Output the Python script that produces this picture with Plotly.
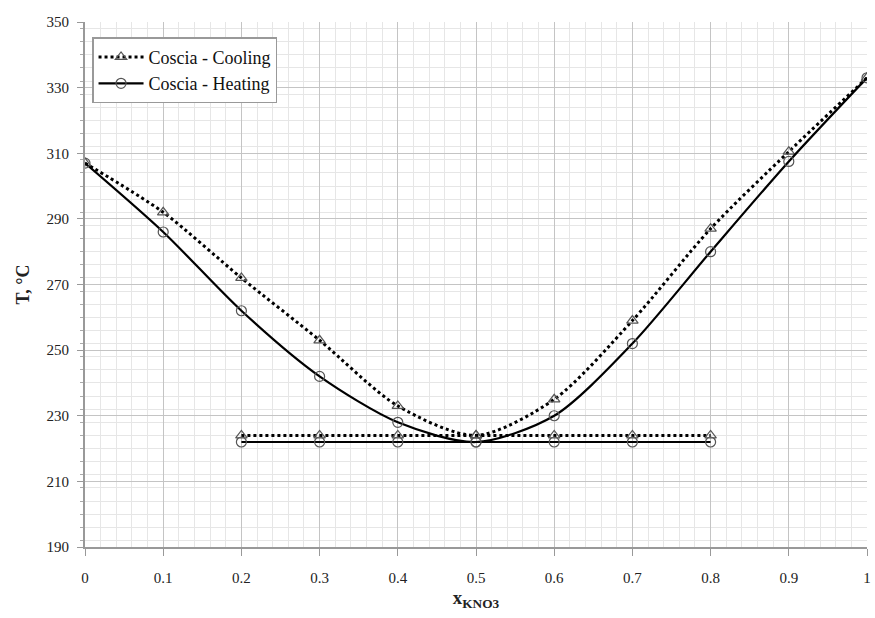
import plotly.graph_objects as go

# Data
x_curve = [0.0, 0.1, 0.2, 0.3, 0.4, 0.5, 0.6, 0.7, 0.8, 0.9, 1.0]
cooling_curve = [307, 292, 272, 253, 233, 224, 235, 259, 287, 310.5, 333]
heating_curve = [307, 286, 262, 242, 228, 222, 230, 252, 280, 307.5, 333]

x_eutectic = [0.2, 0.3, 0.4, 0.5, 0.6, 0.7, 0.8]
cooling_eutectic = [224, 224, 224, 224, 224, 224, 224]
heating_eutectic = [222, 222, 222, 222, 222, 222, 222]

FONT = "Liberation Serif"
MARKER_COLOR = "#555555"

fig = go.Figure()

fig.add_trace(go.Scatter(
    x=x_curve, y=cooling_curve, mode="lines+markers", name="Coscia - Cooling",
    line=dict(color="black", width=3, dash="dot", shape="spline", smoothing=0.8),
    marker=dict(symbol="triangle-up-open", size=10, color=MARKER_COLOR, line=dict(width=1.2, color=MARKER_COLOR)),
))
fig.add_trace(go.Scatter(
    x=x_curve, y=heating_curve, mode="lines+markers", name="Coscia - Heating",
    line=dict(color="black", width=2.2, shape="spline", smoothing=0.8),
    marker=dict(symbol="circle-open", size=10, color=MARKER_COLOR, line=dict(width=1.2, color=MARKER_COLOR)),
))
fig.add_trace(go.Scatter(
    x=x_eutectic, y=cooling_eutectic, mode="lines+markers", showlegend=False,
    line=dict(color="black", width=3, dash="dot"),
    marker=dict(symbol="triangle-up-open", size=10, color=MARKER_COLOR, line=dict(width=1.2, color=MARKER_COLOR)),
))
fig.add_trace(go.Scatter(
    x=x_eutectic, y=heating_eutectic, mode="lines+markers", showlegend=False,
    line=dict(color="black", width=2.2),
    marker=dict(symbol="circle-open", size=10, color=MARKER_COLOR, line=dict(width=1.2, color=MARKER_COLOR)),
))

fig.update_layout(
    width=875, height=618,
    margin=dict(l=85, r=4, t=22, b=71),
    paper_bgcolor="white", plot_bgcolor="white",
    font=dict(family=FONT, size=15, color="#222222"),
    legend=dict(
        x=0.009, y=0.971, xanchor="left", yanchor="top",
        bgcolor="white", bordercolor="#999999", borderwidth=1.5,
        font=dict(family=FONT, size=18, color="#111111"),
        itemwidth=45, tracegroupgap=4,
    ),
    xaxis=dict(
        range=[0, 1], dtick=0.1, tick0=0,
        showgrid=True, gridcolor="#c4c4c4", gridwidth=1,
        minor=dict(dtick=0.02, showgrid=True, gridcolor="#e6e6e6", gridwidth=1),
        zeroline=False, showline=True, linecolor="#999999", linewidth=2,
        ticks="outside", ticklen=7, tickcolor="#999999",
        ticklabelstandoff=9,
        title=dict(text="<b>x<sub>KNO3</sub></b>", font=dict(family=FONT, size=19, color="#222222"), standoff=6),
    ),
    yaxis=dict(
        range=[190, 350], dtick=20, tick0=190,
        showgrid=True, gridcolor="#c4c4c4", gridwidth=1,
        minor=dict(dtick=4, showgrid=True, gridcolor="#e6e6e6", gridwidth=1,
                   ticks="outside", ticklen=3, tickcolor="#aaaaaa"),
        zeroline=False, showline=True, linecolor="#999999", linewidth=2,
        ticks="outside", ticklen=6, tickcolor="#999999",
        ticklabelstandoff=5,
        title=dict(text="<b>T, °C</b>", font=dict(family=FONT, size=18, color="#222222"), standoff=12),
    ),
)

fig.write_html("out.html")
